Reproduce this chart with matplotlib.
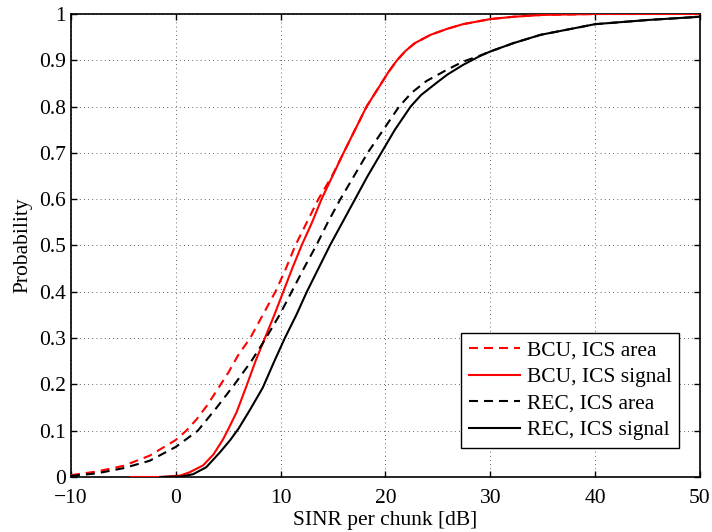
import matplotlib
matplotlib.use("Agg")
import matplotlib.pyplot as plt

# ---- data ----
bcu_area_x = [-10, -7.5, -5, -2.5, 0, 1, 2, 3, 4, 5, 6, 7.1, 8.3, 9.5, 10.5, 11.4, 12.5,
              13.6, 14.9, 16.0, 17.1, 18.2, 19.6, 20.3, 21.1, 21.9, 22.8, 24.3, 25.9, 27.4, 30, 32.2, 35, 40, 45, 50]
bcu_area_y = [0.004, 0.012, 0.024, 0.046, 0.08, 0.1, 0.125, 0.155, 0.19, 0.225, 0.265, 0.3, 0.35, 0.4, 0.45, 0.5, 0.55,
              0.6, 0.65, 0.7, 0.75, 0.8, 0.85, 0.875, 0.9, 0.92, 0.937, 0.955, 0.968, 0.978, 0.989, 0.994, 0.998, 1.0, 1.0, 1.0]

bcu_sig_x = [-4.3, -1.5, 0.4, 1.3, 2.6, 3.6, 4.5, 5.0, 5.8, 6.75, 7.6, 8.5, 9.4, 10.25, 11.1, 12.0, 13.0,
             13.9, 14.95, 16.0, 17.1, 18.2, 19.6, 20.3, 21.1, 21.9, 22.8, 24.3, 25.9, 27.4, 30, 32.2, 35, 40, 45, 50]
bcu_sig_y = [0, 0, 0.003, 0.01, 0.025, 0.049, 0.081, 0.103, 0.14, 0.197, 0.25, 0.3, 0.35, 0.4, 0.45, 0.5, 0.55,
             0.6, 0.65, 0.7, 0.75, 0.8, 0.85, 0.875, 0.9, 0.92, 0.937, 0.955, 0.968, 0.978, 0.989, 0.994, 0.998, 1.0, 1.0, 1.0]

rec_area_x = [-10, -7.5, -5, -2.5, 0, 2.1, 3.9, 5.6, 7.2, 8.6, 9.9, 11.05, 12.2, 13.4, 14.5,
              15.7, 17.0, 18.3, 19.8, 21.3, 22.5, 23.9, 25.9, 27.4, 29, 30, 32.2, 34.8, 40, 45, 50]
rec_area_y = [0.002, 0.008, 0.019, 0.035, 0.065, 0.1, 0.15, 0.2, 0.25, 0.3, 0.35, 0.4, 0.45, 0.5, 0.55,
              0.6, 0.65, 0.7, 0.75, 0.8, 0.83, 0.855, 0.88, 0.897, 0.91, 0.919, 0.937, 0.955, 0.978, 0.987, 0.994]

rec_sig_x = [-1.5, 0.5, 1.65, 2.9, 4.2, 5.2, 6.0, 7.1, 8.3, 9.4, 10.4, 11.5, 12.5, 13.6, 14.7, 15.9,
             17.1, 18.3, 19.6, 20.9, 22.4, 23.4, 24.8, 25.9, 27.4, 29, 30, 32.2, 34.8, 40, 45, 50]
rec_sig_y = [0, 0.001, 0.006, 0.021, 0.053, 0.08, 0.105, 0.146, 0.193, 0.25, 0.3, 0.35, 0.4, 0.45, 0.5, 0.55,
             0.6, 0.65, 0.7, 0.75, 0.8, 0.825, 0.85, 0.869, 0.89, 0.909, 0.919, 0.937, 0.955, 0.978, 0.987, 0.994]

labels = ["BCU, ICS area", "BCU, ICS signal", "REC, ICS area", "REC, ICS signal"]
x_ticks = [-10, 0, 10, 20, 30, 40, 50]
y_ticks = [0, 0.1, 0.2, 0.3, 0.4, 0.5, 0.6, 0.7, 0.8, 0.9, 1]
y_tick_labels = ["0", "0.1", "0.2", "0.3", "0.4", "0.5", "0.6", "0.7", "0.8", "0.9", "1"]

FS = 15.5
plt.rcParams['font.family'] = ['Liberation Serif', 'DejaVu Serif']
plt.rcParams['font.size'] = FS

fig = plt.figure(figsize=(7.12, 5.32), dpi=100)
ax = fig.add_axes([0.0997, 0.1034, 0.8833, 0.8703])

dash = (0, (4.3, 2.9))
ax.plot(bcu_area_x, bcu_area_y, color='red', lw=1.5, linestyle=dash, label=labels[0], zorder=3)
ax.plot(bcu_sig_x, bcu_sig_y, color='red', lw=1.5, linestyle='-', label=labels[1], zorder=3)
ax.plot(rec_area_x, rec_area_y, color='black', lw=1.5, linestyle=dash, label=labels[2], zorder=3)
ax.plot(rec_sig_x, rec_sig_y, color='black', lw=1.5, linestyle='-', label=labels[3], zorder=3)

ax.set_xlim(-10, 50)
ax.set_ylim(0, 1)
ax.set_xticks(x_ticks)
ax.set_yticks(y_ticks)
ax.set_yticklabels(y_tick_labels)
ax.grid(True, color='black', linestyle=(0, (1, 4)), linewidth=0.6, alpha=0.8)
ax.tick_params(direction='in', top=True, right=True, length=4, width=1.0, labelsize=FS)
ax.tick_params(axis='x', pad=9)
ax.tick_params(axis='y', pad=3.5)
for s in ax.spines.values():
    s.set_linewidth(1.2)
    s.set_zorder(2.5)

ax.set_xlabel("SINR per chunk [dB]", fontsize=FS, labelpad=2)
ax.set_ylabel("Probability", fontsize=FS, labelpad=5)

leg = ax.legend(loc='lower right', bbox_to_anchor=(0.967, 0.063), fontsize=FS, frameon=True,
                fancybox=False, edgecolor='black', framealpha=1, handlelength=2.4,
                borderpad=0.35, labelspacing=0.3, handletextpad=0.3, borderaxespad=0)
leg.get_frame().set_linewidth(1.0)

fig.savefig("out.png", dpi=100)
